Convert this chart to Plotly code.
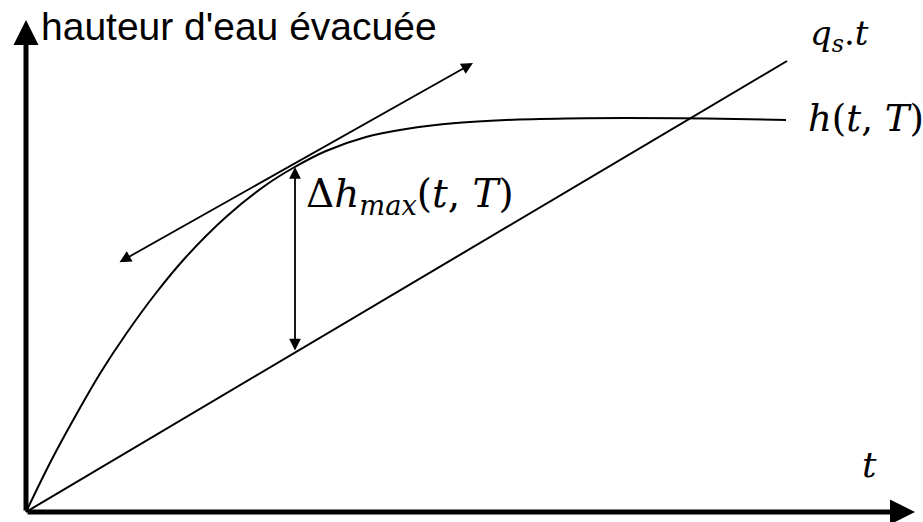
import plotly.graph_objects as go

# values (t along x, water height along y)
t_curve = [0, 25, 50, 75, 100, 130, 160, 200, 240, 267, 300, 340, 380, 430, 480, 540, 600, 680, 760]
h_curve = [0, 51, 97, 140, 178, 219, 255, 295, 327, 344, 361, 375, 383, 389, 392, 393.5, 394, 393.5, 392]

qs_t = [0, 761]
qs_h = [0, 451]

tangent_t = [92, 447]
tangent_h = [249, 449]

delta_t = 269
delta_h = [160, 345]

t_axis_end = 889
h_axis_end = 492

SANS = "Liberation Sans, Arial, sans-serif"
SERIF = "DejaVu Serif, serif"

fig = go.Figure()

fig.add_trace(go.Scatter(x=t_curve, y=h_curve, mode="lines", line=dict(color="black", width=2, shape="spline"),
                         hoverinfo="skip"))
fig.add_trace(go.Scatter(x=qs_t, y=qs_h, mode="lines", line=dict(color="black", width=2), hoverinfo="skip"))

arrows = [
    # axes
    dict(x=t_axis_end, y=0, ax=0, ay=0, arrowwidth=5, arrowsize=1.0, arrowhead=2, arrowside="end"),
    dict(x=0, y=h_axis_end, ax=0, ay=0, arrowwidth=5, arrowsize=1.0, arrowhead=2, arrowside="end"),
    # tangent
    dict(x=tangent_t[1], y=tangent_h[1], ax=tangent_t[0], ay=tangent_h[0], arrowwidth=1.8, arrowsize=1.3,
         arrowhead=2, startarrowhead=2, startarrowsize=1.3, arrowside="end+start"),
    # delta h max
    dict(x=delta_t, y=delta_h[1], ax=delta_t, ay=delta_h[0], arrowwidth=1.8, arrowsize=1.3,
         arrowhead=2, startarrowhead=2, startarrowsize=1.3, arrowside="end+start"),
]
for a in arrows:
    fig.add_annotation(xref="x", yref="y", axref="x", ayref="y", text="", showarrow=True,
                       arrowcolor="black", standoff=0, startstandoff=0, **a)

labels = [
    dict(x=13, y=486, text="hauteur d'eau évacuée", font=dict(family=SANS, size=39)),
    dict(x=782, y=477, text="<i>q</i><sub><i>s</i></sub>.<i>t</i>", font=dict(family=SERIF, size=34)),
    dict(x=780, y=394, text="<i>h</i>(<i>t</i>, <i>T</i>)", font=dict(family=SERIF, size=37)),
    dict(x=278, y=316, text="Δ<i>h</i><sub><i>max</i></sub>(<i>t</i>, <i>T</i>)", font=dict(family=SERIF, size=39)),
    dict(x=834, y=48, text="<i>t</i>", font=dict(family=SERIF, size=36)),
]
for lab in labels:
    fig.add_annotation(xref="x", yref="y", showarrow=False, xanchor="left", yanchor="middle",
                       **{k: v for k, v in lab.items() if k != "font"},
                       font=dict(color="black", **lab["font"]))

fig.update_xaxes(range=[-26, 897], visible=False, fixedrange=True)
fig.update_yaxes(range=[-10, 512], visible=False, fixedrange=True)
fig.update_layout(width=923, height=522, margin=dict(l=0, r=0, t=0, b=0),
                  plot_bgcolor="white", paper_bgcolor="white", showlegend=False)

# drop the default page margin so the figure sits flush in the window
fig.write_html("out.html", config={"displayModeBar": False},
               post_script="document.body.style.margin='0';")
